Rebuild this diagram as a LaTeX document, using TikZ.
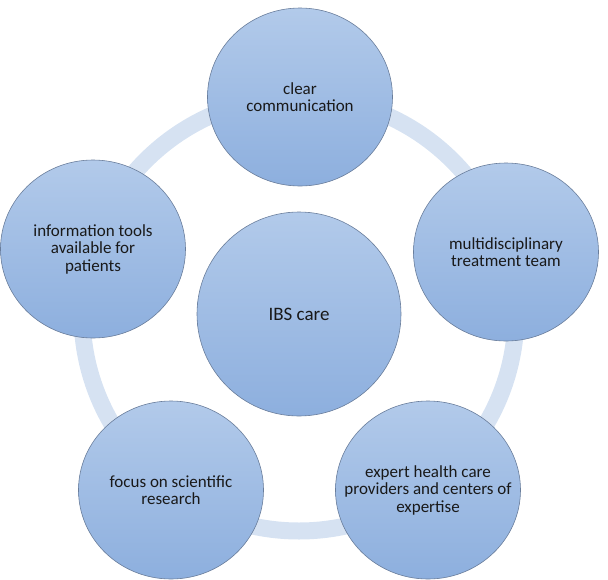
\documentclass[tikz,border=0pt]{standalone}
\usepackage{fontspec}
\setmainfont{Carlito}
\usepackage{xcolor}
\usepackage{tikz}
\usetikzlibrary{shapes.geometric, positioning}
\definecolor{ringblue}{RGB}{214, 226, 242}
\definecolor{bubbletop}{RGB}{178, 202, 234}
\definecolor{bubblebottom}{RGB}{141, 175, 222}
\definecolor{bubbleborder}{RGB}{105, 125, 155}
\definecolor{labeltext}{RGB}{25, 25, 25}
\tikzset{
  x=1pt, y=-1pt,
  bubble/.style={
    ellipse, draw=bubbleborder, line width=0.6pt,
    top color=bubbletop, bottom color=bubblebottom,
    minimum width=185pt, minimum height=178pt, inner sep=-40pt,
    align=center, text=labeltext, font=\fontsize{17}{17.5}\selectfont
  },
  hubbubble/.style={
    bubble, circle, minimum size=204pt, font=\fontsize{19}{23}\selectfont
  },
  ringline/.style={draw=ringblue, line width=17pt}
}

\begin{document}
\begin{tikzpicture}

  \useasboundingbox (0,0) rectangle (608,579);

  % Hub
  \node[hubbubble] (care) at (299,314) {IBS care};

  % Ring behind the satellites
  \begin{scope}[on background layer/.try]
    \draw[ringline] (care.center) circle[radius=217pt];
  \end{scope}

  % Satellites
  \node[bubble] (communication) at (300,97) {clear\\communication};
  \node[bubble] (team) at (506,252) {multidisciplinary\\treatment team};
  \node[bubble] (expertise) at (428,490) {expert health care\\providers and centers of\\expertise};
  \node[bubble] (research) at (171,490) {focus on scientific\\research};
  \node[bubble] (tools) at (93,249) {information tools\\available for\\patients};

\end{tikzpicture}
\end{document}
